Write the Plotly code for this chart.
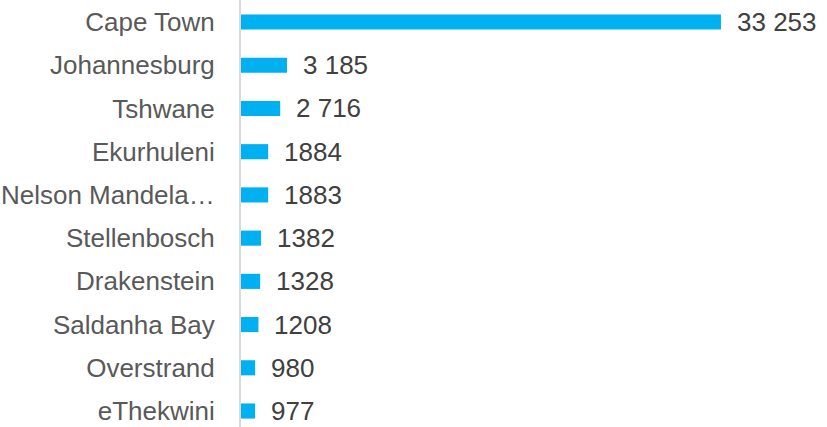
import plotly.graph_objects as go

# Municipalities and their counts
municipalities = [
    "Cape Town", "Johannesburg", "Tshwane", "Ekurhuleni", "Nelson Mandela…",
    "Stellenbosch", "Drakenstein", "Saldanha Bay", "Overstrand", "eThekwini",
]
counts = [33253, 3185, 2716, 1884, 1883, 1382, 1328, 1208, 980, 977]
count_labels = ["33 253", "3 185", "2 716", "1884", "1883",
                "1382", "1328", "1208", "980", "977"]

BAR_COLOR = "#00B0F0"
FONT = "Liberation Sans, Arial, sans-serif"

fig = go.Figure(
    go.Bar(
        x=counts,
        y=municipalities,
        orientation="h",
        marker=dict(color=BAR_COLOR, line=dict(width=0)),
        width=0.35,
        hoverinfo="x+y",
    )
)

# Value labels to the right of each bar
for name, val, lab in zip(municipalities, counts, count_labels):
    fig.add_annotation(
        x=val, y=name, xref="x", yref="y",
        text=lab, showarrow=False,
        xanchor="left", yanchor="middle", xshift=14,
        font=dict(family=FONT, size=26, color="#404040"),
    )

fig.update_layout(
    width=827, height=427,
    margin=dict(l=241, r=0, t=0, b=0),
    paper_bgcolor="white", plot_bgcolor="white",
    showlegend=False,
    font=dict(family=FONT, size=26, color="#595959"),
)
fig.update_xaxes(
    range=[0, 40600], visible=False, showgrid=False, zeroline=False,
)
fig.update_yaxes(
    categoryorder="array", categoryarray=municipalities,
    range=[9.37, -0.51],
    showgrid=False, zeroline=False,
    showline=True, linecolor="#D9D9D9", linewidth=2,
    ticks="", ticklabelstandoff=19,
    tickfont=dict(family=FONT, size=26, color="#595959"),
)

fig.write_html("out.html")
